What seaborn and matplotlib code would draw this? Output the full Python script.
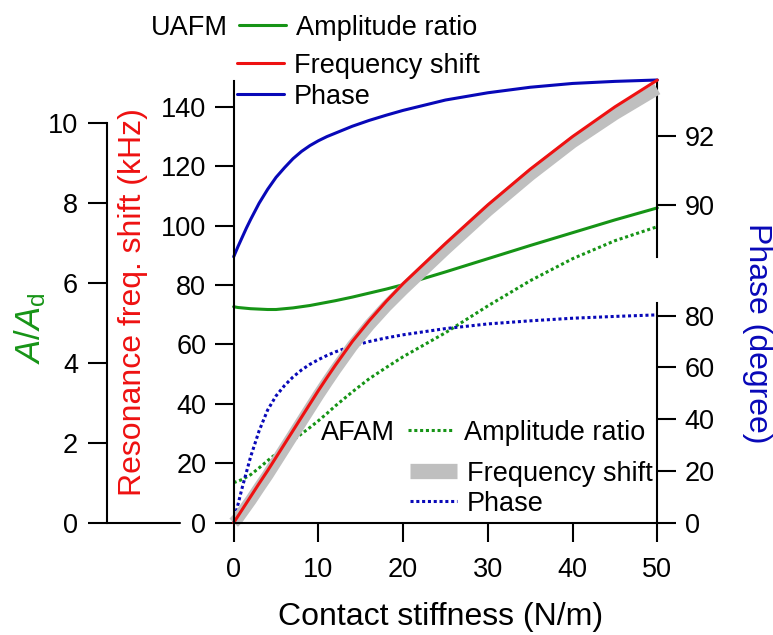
import numpy as np
import pandas as pd
import matplotlib
matplotlib.use("Agg")
import matplotlib.pyplot as plt
from matplotlib.lines import Line2D
import seaborn as sns

# contact stiffness (N/m)
stiffness = [0, 0.5, 1, 1.5, 2, 3, 4, 5, 6, 7, 8, 9, 10, 11, 12, 14, 16, 18, 20, 25, 30, 35, 40, 45, 50]
# UAFM
uafm_amp = [5.4, 5.38, 5.37, 5.36, 5.35, 5.34, 5.33, 5.33, 5.35, 5.37, 5.4, 5.43, 5.47, 5.51, 5.55,
            5.64, 5.74, 5.84, 5.95, 6.27, 6.6, 6.93, 7.25, 7.57, 7.87]
uafm_freq = [0, 2.2, 4.4, 6.6, 8.8, 13.2, 17.5, 22, 26.5, 31, 35.5, 40, 44.5, 48.8, 53,
             61, 68, 74.5, 80.5, 94, 107, 119, 130, 140, 149]
uafm_phase = [88.5, 88.79, 89.06, 89.33, 89.58, 90.05, 90.45, 90.8, 91.08, 91.34, 91.55, 91.72, 91.86,
              91.98, 92.08, 92.28, 92.45, 92.6, 92.74, 93.04, 93.25, 93.41, 93.52, 93.58, 93.62]
# AFAM
afam_amp = [1.0, 1.04, 1.08, 1.14, 1.2, 1.37, 1.55, 1.72, 1.9, 2.06, 2.22, 2.38, 2.55, 2.73, 2.92,
            3.27, 3.6, 3.88, 4.15, 4.75, 5.42, 6.05, 6.6, 7.05, 7.4]
afam_freq = [0, 1.5, 3.5, 5.5, 7.5, 11.8, 16, 20.5, 25, 29.5, 34, 38.5, 43, 47.3, 51.5,
             59.5, 66.5, 72.8, 78.5, 92, 105, 117, 128, 137.5, 146]
afam_phase = [0, 7, 13.5, 19.5, 25.5, 35.5, 43.5, 49, 53, 56.3, 59, 61.2, 63, 64.6, 66,
              68.3, 70, 71.4, 72.6, 75, 76.8, 78, 79, 79.7, 80.3]

df = pd.DataFrame({
    "k": stiffness,
    "uafm_amp": uafm_amp, "uafm_freq": uafm_freq, "uafm_phase": uafm_phase,
    "afam_amp": afam_amp, "afam_freq": afam_freq, "afam_phase": afam_phase,
})

GREEN = "#169416"
RED = "#ee1111"
BLUE = "#0808b8"
GREY = "#bfbfbf"
DOT = (0, (1, 0.9))

sns.set_theme(style="ticks")
plt.rcParams["font.family"] = ["Liberation Sans", "DejaVu Sans"]
plt.rcParams["mathtext.fontset"] = "custom"
plt.rcParams["mathtext.it"] = "Liberation Sans:italic"
plt.rcParams["mathtext.rm"] = "Liberation Sans"
plt.rcParams["axes.linewidth"] = 1.5
plt.rcParams["text.color"] = "black"
plt.rcParams["axes.edgecolor"] = "black"

W, H = 773, 635
fig = plt.figure(figsize=(W / 100, H / 100), dpi=100)


def box(left, right, top, bottom):
    # pixel box -> figure fraction
    return [left / W, 1 - bottom / H, (right - left) / W, (bottom - top) / H]


x_l, x_r = 233.7, 657.3
ax_amp = fig.add_axes(box(x_l, x_r, 81, 522.7))
ax_plo = fig.add_axes(box(x_l, x_r, 302.7, 522.7))
ax_pup = fig.add_axes(box(x_l, x_r, 80, 256.7))
ax = fig.add_axes(box(x_l, x_r, 81, 522.7))

TICK = dict(direction="out", length=13.7, width=1.5, labelsize=19.5, colors="black")

for a in (ax, ax_amp, ax_plo, ax_pup):
    a.set_facecolor("none")
    a.set_xlim(0, 50)
    for s in a.spines.values():
        s.set_visible(False)
        s.set_linewidth(1.5)
        s.set_color("black")

# frequency shift axes (host)
sns.lineplot(data=df, x="k", y="afam_freq", ax=ax, color=GREY, linewidth=8.5,
             solid_capstyle="butt", clip_on=False, legend=False)
sns.lineplot(data=df, x="k", y="uafm_freq", ax=ax, color=RED, linewidth=2.2,
             clip_on=False, legend=False)
ax.set_ylim(0, 148.7)
ax.set_yticks(np.arange(0, 141, 20))
ax.set_xticks(np.arange(0, 51, 10))
ax.spines["left"].set_visible(True)
ax.spines["bottom"].set_visible(True)
ax.tick_params(axis="y", pad=6, **TICK)
ax.tick_params(axis="x", pad=11, **TICK)
ax.set_xlabel("")
ax.set_ylabel("")

# amplitude ratio axes
sns.lineplot(data=df, x="k", y="afam_amp", ax=ax_amp, color=GREEN, linewidth=2.2,
             linestyle=DOT, clip_on=False, legend=False)
sns.lineplot(data=df, x="k", y="uafm_amp", ax=ax_amp, color=GREEN, linewidth=2.2,
             clip_on=False, legend=False)
ax_amp.set_ylim(0, 441.7 / 40)
ax_amp.set_yticks(np.arange(0, 11, 2))
ax_amp.spines["left"].set_visible(True)
ax_amp.spines["left"].set_position(("outward", 126.7 * 0.72))
ax_amp.spines["left"].set_bounds(0, 10)
ax_amp.tick_params(axis="y", pad=7, **TICK)
ax_amp.set_xticks([])
ax_amp.set_xlabel("")
ax_amp.set_ylabel("")

# phase, lower part (AFAM)
sns.lineplot(data=df, x="k", y="afam_phase", ax=ax_plo, color=BLUE, linewidth=2.2,
             linestyle=DOT, clip_on=False, legend=False)
ax_plo.set_ylim(0, 85.0)
ax_plo.set_yticks(np.arange(0, 81, 20))

# phase, upper part (UAFM)
sns.lineplot(data=df, x="k", y="uafm_phase", ax=ax_pup, color=BLUE, linewidth=2.2,
             clip_on=False, legend=False)
ax_pup.set_ylim(88.5, 93.62)
ax_pup.set_yticks([90, 92])

for a in (ax_plo, ax_pup):
    a.yaxis.tick_right()
    a.spines["right"].set_visible(True)
    a.tick_params(axis="y", pad=6, **TICK)
    a.set_xticks([])
    a.set_xlabel("")
    a.set_ylabel("")

# bottom line of the amplitude axis
fig.add_artist(Line2D([107 / W, 180 / W], [1 - 522.7 / H] * 2, color="black",
                      linewidth=1.5, transform=fig.transFigure))

# axis labels
fig.text(441 / W, 1 - 617 / H, "Contact stiffness (N/m)", fontsize=23,
         ha="center", va="center")
fig.text(133 / W, 1 - 302 / H, "Resonance freq. shift (kHz)", fontsize=23,
         color=RED, rotation=90, ha="center", va="center")
fig.text(30 / W, 1 - 328 / H, r"$A$/$A_{\mathrm{d}}$", fontsize=25,
         color=GREEN, rotation=90, ha="center", va="center")
fig.text(757 / W, 1 - 333 / H, "Phase (degree)", fontsize=23,
         color=BLUE, rotation=-90, ha="center", va="center")


def key(x0, x1, y, text, **kw):
    fig.add_artist(Line2D([x0 / W, x1 / W], [1 - y / H] * 2,
                          transform=fig.transFigure, **kw))
    fig.text((x1 + 10) / W, 1 - y / H, text, fontsize=19.5, ha="left",
             va="center_baseline")


# UAFM legend
fig.text(228 / W, 1 - 25 / H, "UAFM", fontsize=19.5, ha="right", va="center_baseline")
key(239, 286, 25, "Amplitude ratio", color=GREEN, linewidth=2.2)
key(237, 284, 63, "Frequency shift", color=RED, linewidth=2.2)
key(237, 284, 94, "Phase", color=BLUE, linewidth=2.2)

# AFAM legend
fig.text(395 / W, 1 - 430 / H, "AFAM", fontsize=19.5, ha="right", va="center_baseline")
key(408, 454, 430, "Amplitude ratio", color=GREEN, linewidth=2.2, linestyle=DOT)
key(410, 457, 471, "Frequency shift", color=GREY, linewidth=11, solid_capstyle="butt")
key(410, 457, 501, "Phase", color=BLUE, linewidth=2.2, linestyle=DOT)

fig.savefig("out.png", dpi=100)
